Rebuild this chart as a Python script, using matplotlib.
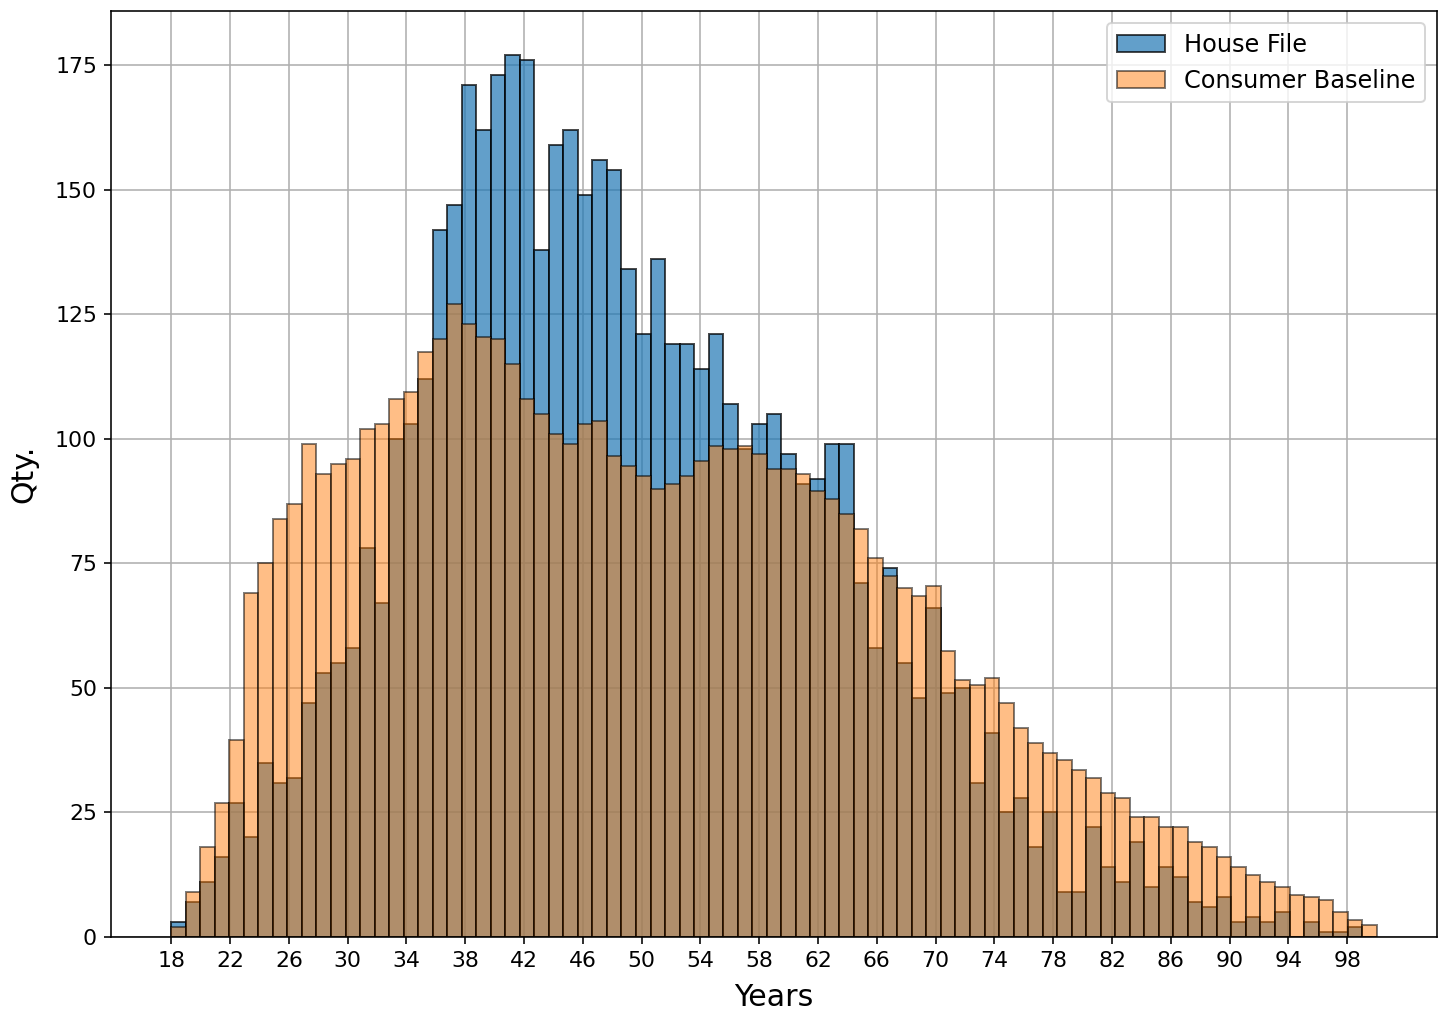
import matplotlib
matplotlib.use("Agg")
import matplotlib.pyplot as plt
import numpy as np

# age histogram: 83 equal bins between 18 and 100 years
age_min, age_max, n_bins = 18, 100, 83

house_file = [
    3, 7, 11, 16, 27, 20, 35, 31, 32, 47,
    53, 55, 58, 78, 67, 100, 103, 112, 142, 147,
    171, 162, 173, 177, 176, 138, 159, 162, 149, 156,
    154, 134, 121, 136, 119, 119, 114, 121, 107, 98,
    103, 105, 97, 91, 92, 99, 99, 71, 58, 74,
    55, 48, 66, 49, 50, 31, 41, 25, 28, 18,
    25, 9, 9, 22, 14, 11, 19, 10, 14, 12,
    7, 6, 8, 3, 4, 3, 5, 0, 3, 1,
    1, 2, 0,
]

consumer_baseline = [
    2, 9, 18, 27, 39.5, 69, 75, 84, 87, 99,
    93, 95, 96, 102, 103, 108, 109.5, 117.5, 120, 127,
    123, 120.5, 120, 115, 108, 105, 101, 99, 103, 103.5,
    96.5, 94.5, 92.5, 90, 91, 92.5, 95.5, 98.5, 98, 98.5,
    97, 94, 94, 93, 89.5, 88, 85, 82, 76, 72.5,
    70, 68.5, 70.5, 57.5, 51.5, 50.5, 52, 47, 42, 39,
    37, 35.5, 33.5, 32, 29, 28, 24, 24, 22, 22,
    19, 18, 16, 14, 12.5, 11, 10, 8.5, 8, 7.5,
    5, 3.5, 2.5,
]

xtick_values = list(range(18, 100, 4))

edges = np.linspace(age_min, age_max, n_bins + 1)
centers = (edges[:-1] + edges[1:]) / 2

fig = plt.figure(figsize=(1443 / 144, 1013 / 144), dpi=144)
ax = fig.add_axes([0.0769, 0.075, 0.9189, 0.914])

ax.hist(centers, bins=edges, weights=house_file, alpha=0.7,
        edgecolor="black", label="House File")
ax.hist(centers, bins=edges, weights=consumer_baseline, alpha=0.5,
        edgecolor="black", label="Consumer Baseline")

ax.set_xticks(xtick_values)
ax.tick_params(labelsize=11)
ax.set_xlabel("Years", fontsize=15, labelpad=6)
ax.set_ylabel("Qty.", fontsize=15, labelpad=8)
ax.grid(True)
ax.set_axisbelow(True)
ax.legend(loc="upper right", fontsize=12)

fig.savefig("out.png", dpi=144)
